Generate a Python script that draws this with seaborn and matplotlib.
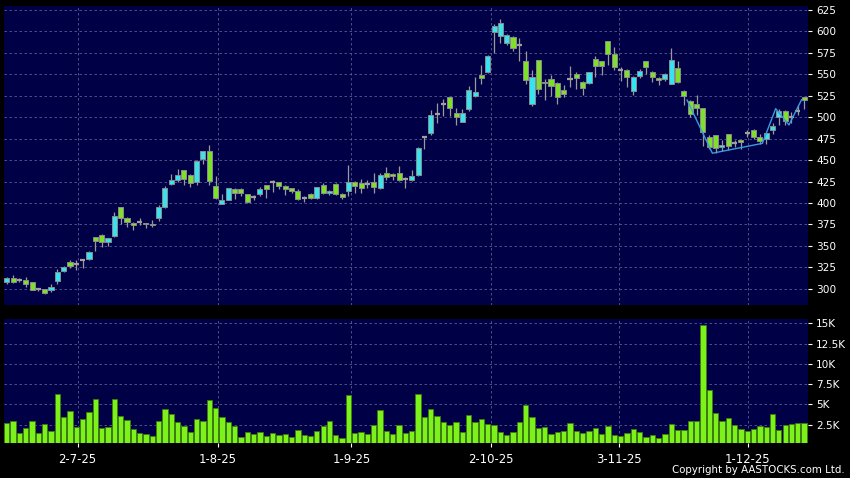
import numpy as np
import pandas as pd
import matplotlib
matplotlib.use("Agg")
import matplotlib.pyplot as plt
import seaborn as sns

# ---------------- data ----------------
opens = [308, 313, 310, 310, 308, 300, 300, 298, 309, 321,
         331, 329, 334, 335, 360, 363, 354, 362, 395, 383,
         377, 378, 377, 376, 383, 395, 422, 427, 438, 433,
         425, 451, 461, 420, 399, 404, 416, 416, 410, 407,
         411, 421, 424, 425, 420, 417, 414, 406, 410, 406,
         421, 412, 422, 411, 414, 424, 423, 422, 424, 417,
         435, 434, 435, 428, 427, 433, 477, 482, 504, 515,
         523, 505, 494, 509, 525, 549, 553, 599, 595, 586,
         593, 584, 566, 515, 567, 540, 545, 540, 532, 544,
         550, 541, 540, 568, 566, 589, 574, 555, 555, 530,
         548, 566, 553, 546, 544, 539, 557, 531, 519, 515,
         511, 477, 479, 465, 480, 470, 474, 482, 485, 477,
         475, 485, 500, 507, 500, 507, 523]
closes = [313, 308, 310, 306, 298, 300, 295, 302, 319, 325,
          326, 329, 334, 343, 356, 354, 359, 385, 382, 378,
          374, 378, 375, 374, 395, 418, 427, 433, 428, 423,
          449, 461, 426, 406, 403, 417, 412, 412, 401, 407,
          416, 416, 424, 420, 416, 414, 405, 406, 406, 419,
          412, 414, 410, 407, 424, 420, 417, 422, 419, 433,
          430, 431, 427, 428, 432, 464, 477, 502, 504, 515,
          511, 500, 505, 532, 529, 546, 571, 606, 610, 596,
          581, 584, 543, 547, 533, 541, 536, 523, 527, 544,
          546, 534, 553, 560, 560, 574, 558, 555, 547, 547,
          554, 558, 547, 543, 550, 567, 541, 525, 504, 511,
          483, 465, 464, 468, 466, 470, 471, 482, 477, 472,
          482, 490, 507, 496, 500, 507, 520]
highs = [314, 316, 312, 314, 308, 300, 300, 305, 323, 326,
         333, 333, 335, 344, 360, 364, 359, 390, 395, 384,
         378, 383, 377, 380, 398, 420, 434, 440, 438, 434,
         450, 461, 468, 431, 410, 418, 418, 417, 410, 409,
         419, 421, 427, 425, 421, 418, 416, 408, 412, 419,
         423, 415, 423, 412, 444, 426, 428, 427, 435, 435,
         442, 435, 443, 430, 438, 465, 478, 508, 516, 521,
         523, 511, 509, 536, 547, 561, 573, 609, 614, 597,
         595, 592, 577, 555, 567, 545, 549, 541, 538, 560,
         553, 542, 553, 571, 566, 589, 582, 559, 556, 548,
         556, 566, 554, 547, 551, 581, 565, 532, 520, 526,
         511, 479, 479, 473, 480, 474, 474, 485, 486, 481,
         482, 493, 510, 508, 506, 514, 523]
lows = [305, 307, 308, 302, 298, 297, 294, 296, 306, 320,
        324, 322, 324, 334, 344, 349, 350, 360, 376, 372,
        369, 374, 371, 372, 379, 394, 421, 425, 421, 419,
        421, 446, 421, 405, 399, 403, 405, 408, 400, 404,
        408, 406, 413, 416, 409, 412, 403, 401, 405, 405,
        410, 409, 409, 405, 408, 412, 412, 417, 412, 416,
        427, 427, 426, 418, 426, 432, 463, 479, 493, 501,
        501, 491, 494, 507, 523, 539, 552, 575, 586, 584,
        577, 566, 539, 513, 527, 520, 525, 515, 524, 535,
        533, 526, 539, 547, 549, 561, 555, 542, 535, 526,
        546, 550, 541, 538, 542, 539, 540, 514, 500, 502,
        467, 463, 458, 461, 462, 465, 463, 477, 475, 469,
        469, 481, 491, 491, 493, 502, 510]
volume_k = [2.67, 2.96, 1.44, 2.14, 2.96, 1.48, 2.63, 1.73, 6.29, 3.41,
            4.19, 2.26, 3.21, 4.11, 5.67, 2.14, 2.18, 5.67, 3.62, 3.04,
            1.97, 1.48, 1.32, 1.07, 2.96, 4.44, 3.82, 2.84, 2.30, 1.60,
            3.21, 2.96, 5.59, 4.56, 3.49, 2.84, 2.34, 0.95, 1.60, 1.36,
            1.60, 1.11, 1.48, 1.23, 1.32, 0.99, 1.85, 1.19, 1.11, 1.73,
            2.34, 2.96, 1.19, 0.86, 6.12, 1.48, 1.60, 1.40, 2.51, 4.32,
            1.69, 1.36, 2.51, 1.44, 1.69, 6.29, 3.41, 4.40, 3.58, 2.79,
            2.42, 2.88, 1.60, 3.70, 2.84, 3.25, 2.55, 2.42, 1.60, 1.19,
            1.60, 2.79, 4.97, 3.49, 2.06, 2.18, 1.32, 1.60, 1.73, 2.71,
            1.77, 1.52, 1.73, 2.10, 1.36, 2.30, 1.27, 1.11, 1.48, 1.93,
            1.60, 0.99, 1.23, 0.90, 1.36, 2.55, 1.85, 1.89, 2.96, 2.92,
            14.80, 6.74, 3.99, 2.92, 3.29, 2.42, 1.97, 1.69, 2.01, 2.30,
            2.22, 3.86, 1.89, 2.51, 2.55, 2.67, 2.71]

# pattern line drawn over the last candles
zig_x = [107.5, 111.5, 119.4, 121.5, 123.6, 125.6]
zig_y = [520, 458, 469.5, 510, 491, 520.5]

date_labels = ["2-7-25", "1-8-25", "1-9-25", "2-10-25", "3-11-25", "1-12-25"]
date_pos = [11.2, 33.35, 54.45, 76.5, 96.7, 117.05]

price_ticks = [300, 325, 350, 375, 400, 425, 450, 475, 500, 525, 550, 575, 600, 625]
vol_ticks = [2.5, 5, 7.5, 10, 12.5, 15]
vol_labels = ["2.5K", "5K", "7.5K", "10K", "12.5K", "15K"]

# ---------------- style ----------------
plt.rcParams['font.family'] = ['DejaVu Sans']
BG = '#000046'
GRID = '#5a5a92'
UP = '#35E4F0'
DOWN = '#7FE02C'
VOLC = '#7CF21A'

fig = plt.figure(figsize=(8.5, 4.78), dpi=100, facecolor='black')
axp = fig.add_axes([4 / 850, 1 - 305 / 478, 803.7 / 850, 299 / 478])
axv = fig.add_axes([4 / 850, 1 - 443.3 / 478, 803.7 / 850, 124.3 / 478])
for ax in (axp, axv):
    ax.set_facecolor(BG)
    for s in ax.spines.values():
        s.set_visible(False)
    ax.set_axisbelow(True)

# ---------------- candlesticks ----------------
x = np.arange(len(opens))
o = np.array(opens, float)
c = np.array(closes, float)
h = np.array(highs, float)
l = np.array(lows, float)
up = c > o
dn = c < o
dj = c == o

axp.vlines(x, l, h, color='#9a9a9a', lw=0.9, zorder=2)
axp.bar(x[up], (c - o)[up], bottom=o[up], width=0.8, color=UP,
        edgecolor='#8c8c8c', linewidth=0.7, zorder=3)
axp.bar(x[dn], (o - c)[dn], bottom=c[dn], width=0.8, color=DOWN,
        edgecolor='#8c8c8c', linewidth=0.7, zorder=3)
axp.hlines(o[dj], x[dj] - 0.4, x[dj] + 0.4, color='#a0a0a0', lw=1.6, zorder=3)
sns.lineplot(x=zig_x, y=zig_y, ax=axp, color='#3A9BE0', lw=1.0, zorder=4,
             legend=False, sort=False)

axp.set_ylim(281, 629.7)
axp.set_xlim(-0.43, 126.56)
axp.set_yticks(price_ticks)
axp.set_yticklabels([str(t) for t in price_ticks])
axp.yaxis.tick_right()
axp.set_xticks(date_pos)
axp.tick_params(axis='x', bottom=False, labelbottom=False)
axp.tick_params(axis='y', colors='white', labelsize=7.6, length=3, width=0.8, pad=3)
axp.grid(True, color=GRID, ls=(0, (3, 3)), lw=0.6)
axp.set_xlabel('')
axp.set_ylabel('')

# ---------------- volume ----------------
vdf = pd.DataFrame({'x': x, 'vol': volume_k})
sns.barplot(data=vdf, x='x', y='vol', native_scale=True, ax=axv, color=VOLC,
            saturation=1, width=0.84, edgecolor='#3d7d0c', linewidth=0.6,
            errorbar=None, zorder=3)
axv.set_xlim(-0.43, 126.56)
axv.set_ylim(0.2, 15.54)
axv.set_yticks(vol_ticks)
axv.set_yticklabels(vol_labels)
axv.yaxis.tick_right()
axv.set_xticks(date_pos)
axv.set_xticklabels(date_labels)
axv.tick_params(axis='y', colors='white', labelsize=7.6, length=3, width=0.8, pad=3)
axv.tick_params(axis='x', colors='white', labelsize=8.4, length=3, width=0.8, pad=4)
axv.grid(True, color=GRID, ls=(0, (3, 3)), lw=0.6)
axv.set_xlabel('')
axv.set_ylabel('')

fig.text(0.994, 0.006, "Copyright by AASTOCKS.com Ltd.", ha='right', va='bottom',
         color='white', fontsize=7.4)

fig.savefig('out.png', dpi=100, facecolor='black')
